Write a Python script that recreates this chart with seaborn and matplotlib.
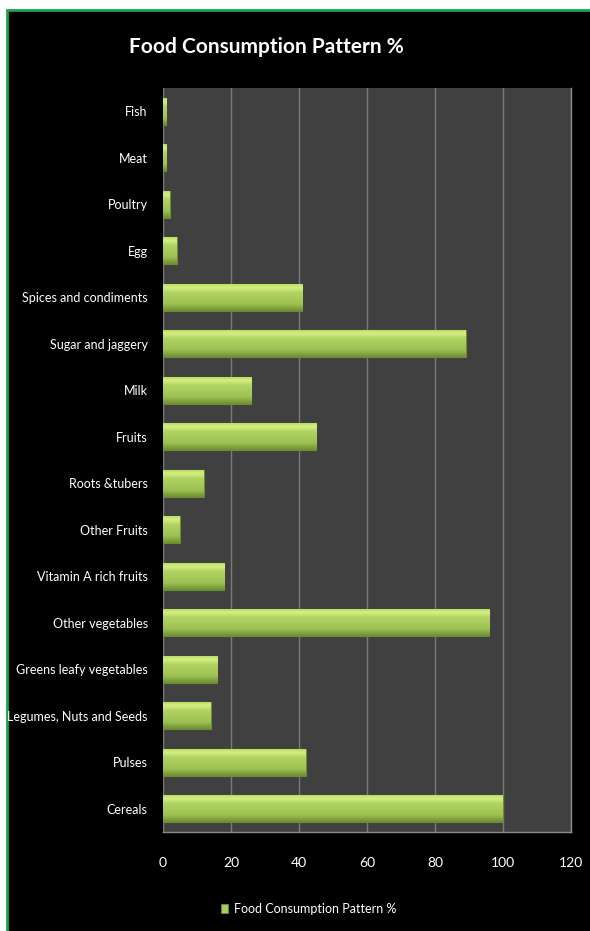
import numpy as np
import pandas as pd
import seaborn as sns
import matplotlib.pyplot as plt
from matplotlib.patches import Rectangle
from matplotlib.colors import LinearSegmentedColormap

# data, top to bottom as in the chart
foods = ['Fish', 'Meat', 'Poultry', 'Egg', 'Spices and condiments',
         'Sugar and jaggery', 'Milk', 'Fruits', 'Roots &tubers', 'Other Fruits',
         'Vitamin A rich fruits', 'Other vegetables', 'Greens leafy vegetables',
         'Legumes, Nuts and Seeds', 'Pulses', 'Cereals']
pct = [1, 1, 2, 4, 41, 89, 26, 45, 12, 5, 18, 96, 16, 14, 42, 100]
x_ticks = [0, 20, 40, 60, 80, 100, 120]
series_name = 'Food Consumption Pattern %'

df = pd.DataFrame({'food': foods, 'pct': pct})

sns.set_style('dark')
plt.rcParams['font.family'] = ['Liberation Sans Narrow', 'Lato', 'DejaVu Sans']

fig = plt.figure(figsize=(5.9, 9.31), dpi=100)
fig.patch.set_facecolor('white')
# black chart area with green frame
fig.patches.append(Rectangle((7 / 590, -0.01), 1.0, 1 - 10 / 931 + 0.01,
                             transform=fig.transFigure, facecolor='black',
                             edgecolor='#1aa34a', linewidth=2, zorder=-1))

ax = fig.add_axes([163 / 590, 1 - 832 / 931, 408 / 590, 744 / 931])
ax.set_facecolor('#404040')

sns.barplot(data=df, x='pct', y='food', orient='h', color='#9bbb59',
            width=0.57, ax=ax, saturation=1, edgecolor='#6e8a35', linewidth=0.8,
            zorder=3)

# gradient fill on each bar (light top edge, darker bottom)
grad = LinearSegmentedColormap.from_list(
    'g', [(0, '#b9dc62'), (0.12, '#d6f083'), (0.3, '#b2d463'), (0.75, '#9cc052'), (1, '#6f8f32')])
g = np.linspace(0, 1, 64).reshape(-1, 1)
for p in ax.patches:
    x0, y0 = p.get_x(), p.get_y()
    w, h = p.get_width(), p.get_height()
    im = ax.imshow(g, cmap=grad, aspect='auto', extent=(x0, x0 + w, y0 + h, y0),
                   zorder=3.5, interpolation='bicubic')
    im.set_clip_path(p)

ax.set_xlim(0, 120)
ax.set_ylim(len(foods) - 0.5, -0.5)
ax.set_xticks(x_ticks)
ax.set_xticklabels([str(t) for t in x_ticks])
ax.grid(axis='x', color='#7a7a7a', linewidth=1, zorder=1)
ax.grid(axis='y', visible=False)
ax.set_axisbelow(True)
ax.set_xlabel('')
ax.set_ylabel('')
ax.tick_params(axis='x', colors='white', labelsize=10, length=0, pad=18)
ax.tick_params(axis='y', colors='white', labelsize=9, length=0, pad=11)
for s in ['top', 'left']:
    ax.spines[s].set_visible(False)
for s in ['right', 'bottom']:
    ax.spines[s].set_visible(True)
    ax.spines[s].set_color('#8a8a8a')
    ax.spines[s].set_linewidth(1)

fig.text(266 / 590, 1 - 47 / 931, 'Food Consumption Pattern %', color='white',
         fontsize=15, fontweight='bold', ha='center', va='center')

# legend
fig.patches.append(Rectangle((221 / 590, 1 - 913 / 931), 7 / 590, 9 / 931,
                             transform=fig.transFigure, facecolor='#a8cb5c',
                             edgecolor='#6e8a35', linewidth=0.6))
fig.text(234 / 590, 1 - 909 / 931, series_name, color='white', fontsize=9,
         ha='left', va='center')

fig.savefig('out.png', dpi=100, facecolor=fig.get_facecolor())
